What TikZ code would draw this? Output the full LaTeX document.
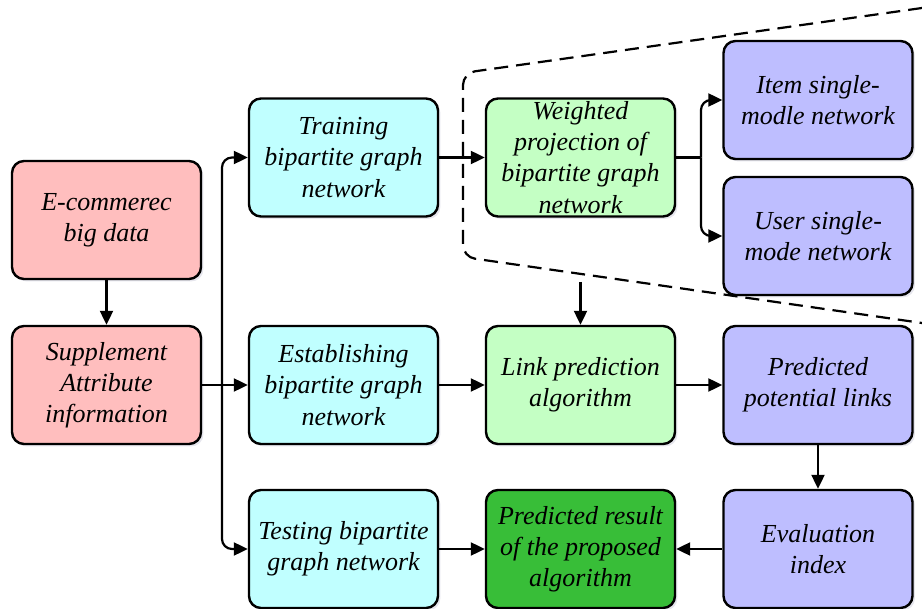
\documentclass[tikz,border=0pt]{standalone}
\usepackage{fontspec}
\setmainfont{Liberation Serif}
\usetikzlibrary{arrows.meta, positioning, shadows}
\definecolor{cPink}{RGB}{255,190,190}
\definecolor{cCyan}{RGB}{192,255,255}
\definecolor{cLime}{RGB}{196,255,196}
\definecolor{cGreen}{RGB}{56,190,56}
\definecolor{cLilac}{RGB}{190,190,255}
\tikzset{
  box/.style={rectangle, rounded corners=6pt, draw=black, line width=1.2pt,
              minimum width=94.5pt, minimum height=59pt, align=center,
              inner sep=1pt,
              font=\itshape\fontsize{13}{15.6}\selectfont,
              drop shadow={shadow xshift=1.2pt, shadow yshift=-1.2pt,
                           fill=cLilac!60!black, opacity=0.18}},
  bPink/.style ={box, fill=cPink},
  bCyan/.style ={box, fill=cCyan},
  bLime/.style ={box, fill=cLime},
  bGreen/.style={box, fill=cGreen},
  bLilac/.style={box, fill=cLilac},
  arr/.style={-{Triangle[length=7pt, width=6.5pt]}, line width=1.1pt},
  fork/.style={arr, rounded corners=5pt},
  zone/.style={dash pattern=on 7pt off 4pt, line width=1.1pt, rounded corners=6pt},
}

\begin{document}
\begin{tikzpicture}[x=0.5pt, y=-0.5pt]
\useasboundingbox (0,0) rectangle (922,609);

%% ============================================================
%% INPUT DATA  (left column)
%% ============================================================
\node[bPink] (ecom) at (106.5,220) {E-commerec\\big data};
\node[bPink] (supp) at (106.5,385) {Supplement\\Attribute\\information};

%% ============================================================
%% BIPARTITE GRAPH NETWORKS  (second column)
%% ============================================================
\node[bCyan] (train) at (343.5,157.5) {Training\\bipartite graph\\network};
\node[bCyan] (estab) at (343.5,385)   {Establishing\\bipartite graph\\network};
\node[bCyan] (test)  at (343.5,549)   {Testing bipartite\\graph network};

%% ============================================================
%% PROJECTION / ALGORITHM  (third column)
%% ============================================================
\node[bLime]  (weight) at (580.5,157.5) {Weighted\\projection of\\bipartite graph\\network};
\node[bLime]  (link)   at (580.5,385)   {Link prediction\\algorithm};
\node[bGreen] (result) at (580.5,549)   {Predicted result\\of the proposed\\algorithm};

%% ============================================================
%% OUTPUTS  (right column)
%% ============================================================
\node[bLilac] (item)   at (818,100) {Item single-\\modle network};
\node[bLilac] (user)   at (818,236) {User single-\\mode network};
\node[bLilac] (plinks) at (818,385) {Predicted\\potential links};
\node[bLilac] (eval)   at (818,549) {Evaluation\\index};

%% ============================================================
%% DASHED ZONE round the projection
%% ============================================================
\draw[zone] (922,8) -- (463,73) -- (463,257) -- (922,323);

%% ============================================================
%% CONNECTORS
%% ============================================================
\draw[arr] (ecom) -- (supp);

% split of the input into the three networks
\coordinate (split) at (222,385);
\draw[arr]  (supp) -- (estab);
\draw[fork] (split) |- (train.west);
\draw[fork] (split) |- (test.west);

% projection into the two single-mode networks
\coordinate (proj) at (701,157.5);
\draw[arr] (train) -- (weight);
\draw[line width=1.1pt] (weight) -- (proj);
\draw[fork] (proj) |- (item.west);
\draw[fork] (proj) |- (user.west);

% zone feeds the link prediction
\coordinate (zout) at (580.5,282);
\draw[arr] (zout) -- (link);

\draw[arr] (estab)  -- (link);
\draw[arr] (link)   -- (plinks);
\draw[arr] (plinks) -- (eval);
\draw[arr] (eval)   -- (result);
\draw[arr] (test)   -- (result);

\end{tikzpicture}
\end{document}
